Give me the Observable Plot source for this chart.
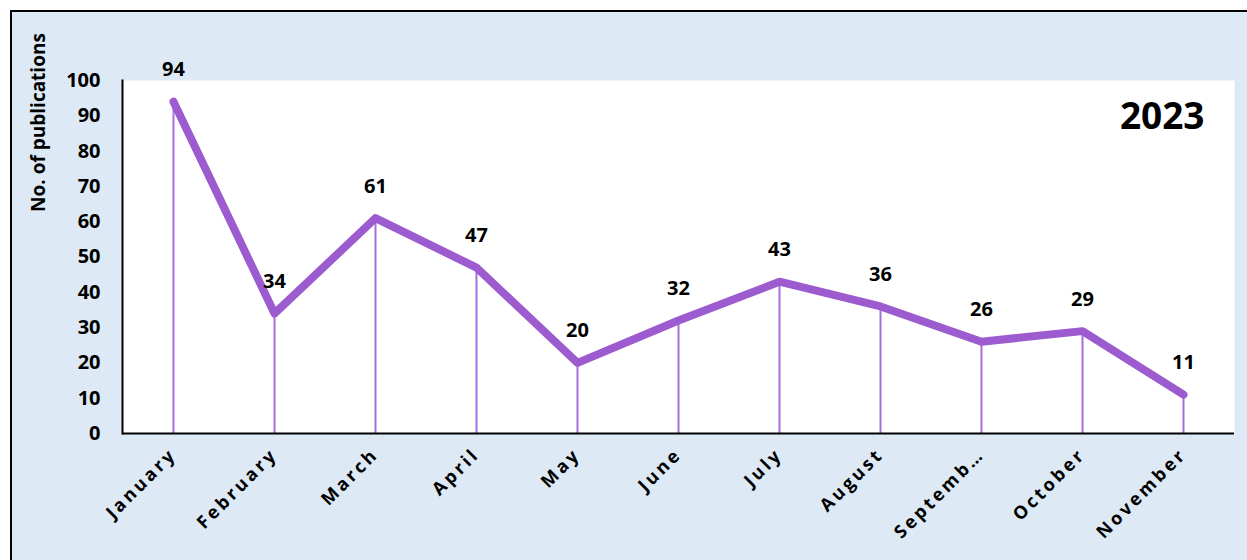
<!DOCTYPE html>
<html>
<head>
<meta charset="utf-8">
<script src="https://cdn.jsdelivr.net/npm/d3@7"></script>
<script src="https://cdn.jsdelivr.net/npm/@observablehq/plot@0.6"></script>
<style>
  html, body { margin: 0; padding: 0; background: #ffffff; }
  #wrap { position: relative; width: 1247px; height: 560px; overflow: hidden; }
  #bg { position: absolute; left: 10px; top: 10px; right: 0; bottom: 0;
        background: #dde9f5; border-top: 2px solid #000; border-left: 2px solid #000; }
  #chart { position: absolute; left: 0; top: 0; }
  #chart svg { background: transparent; overflow: visible; }
  #chart g[aria-label="x-axis tick label"] text { letter-spacing: 3px; }
</style>
</head>
<body>
<div id="wrap"><div id="bg"></div><div id="chart"></div></div>
<script>
const months = ["January","February","March","April","May","June","July","August","September","October","November"];
const tickLabels = ["January","February","March","April","May","June","July","August","Septemb…","October","November"];
const publications = [94, 34, 61, 47, 20, 32, 43, 36, 26, 29, 11];
const yearLabel = "2023";
const yTitle = "No. of publications";

const rows = months.map((m, i) => ({month: m, value: publications[i]}));
const labelOf = new Map(months.map((m, i) => [m, tickLabels[i]]));

const lineColor = "#9c5ccf";
const ruleColor = "#a96ddc";
const font = "'Open Sans', 'DejaVu Sans', sans-serif";

const chart = Plot.plot({
  width: 1247,
  height: 560,
  marginLeft: 122,
  marginRight: 13,
  marginTop: 80,
  marginBottom: 127,
  style: {fontFamily: font, background: "transparent", color: "#000"},
  x: {type: "point", domain: months, padding: 0.5, label: null},
  y: {domain: [0, 100], label: null},
  marks: [
    Plot.frame({fill: "white", stroke: null}),
    Plot.ruleX(rows, {x: "month", y1: 0, y2: "value", stroke: ruleColor, strokeWidth: 2}),
    Plot.line(rows, {x: "month", y: "value", stroke: lineColor, strokeWidth: 8, strokeLinecap: "round", strokeLinejoin: "round"}),
    Plot.frame({anchor: "left", stroke: "#000", strokeWidth: 2}),
    Plot.ruleY([0], {stroke: "#000", strokeWidth: 2}),
    Plot.axisY({ticks: d3.range(0, 101, 10), tickSize: 0, tickPadding: 22, fontSize: 20, fontWeight: "bold", label: null}),
    Plot.axisX({tickSize: 0, tickPadding: 18, tickRotate: -45, fontSize: 18, fontWeight: "bold", label: null,
                tickFormat: d => labelOf.get(d)}),
    Plot.text(rows, {x: "month", y: "value", text: d => String(d.value), dy: -32, fontSize: 20, fontWeight: "bold", fill: "#000"}),
    Plot.text([yTitle], {frameAnchor: "top-left", textAnchor: "middle", lineAnchor: "middle", dx: -84, dy: 42, rotate: -90, fontSize: 19, fontWeight: "bold", fill: "#000"}),
    Plot.text([yearLabel], {frameAnchor: "top-right", textAnchor: "end", lineAnchor: "middle", dx: -30, dy: 37, fontSize: 37, fontWeight: "bold", fill: "#000"})
  ]
});
document.getElementById("chart").appendChild(chart);
</script>
</body>
</html>
